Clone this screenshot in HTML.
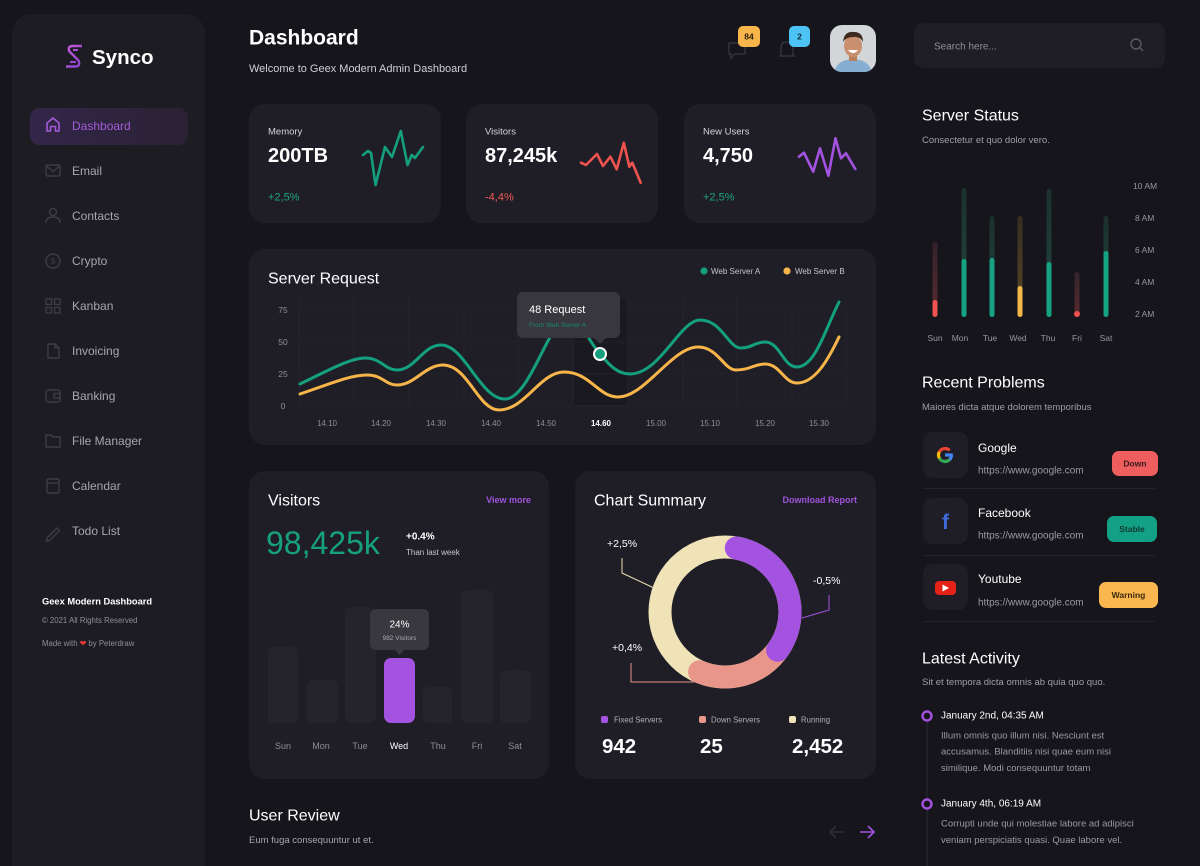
<!DOCTYPE html>
<html><head><meta charset="utf-8">
<style>
html,body{margin:0;padding:0;background:#16151b;}
svg{display:block;}
text{font-family:"Liberation Sans",sans-serif;}
.w{fill:#ffffff}
.g{fill:#8f8d97}
.lg{fill:#b3b1b9}
.nav{fill:#a7a5ad;font-size:12px}
.b{font-weight:bold}
</style></head>
<body>
<svg width="1200" height="866" viewBox="0 0 1200 866" xmlns="http://www.w3.org/2000/svg">
<defs>
<linearGradient id="lgP" x1="0" y1="0" x2="1" y2="1"><stop offset="0" stop-color="#c45ad8"/><stop offset="1" stop-color="#8a3fd0"/></linearGradient>
<linearGradient id="nav" x1="0" y1="0" x2="1" y2="0"><stop offset="0" stop-color="#33264a"/><stop offset="1" stop-color="#2a2233"/></linearGradient>
<linearGradient id="dT" x1="0" y1="0" x2="0" y2="1"><stop offset="0" stop-color="#1c302c"/><stop offset="1" stop-color="#1f4a3f"/></linearGradient>
<linearGradient id="dR" x1="0" y1="0" x2="0" y2="1"><stop offset="0" stop-color="#34222a"/><stop offset="1" stop-color="#5a2b30"/></linearGradient>
<linearGradient id="dY" x1="0" y1="0" x2="0" y2="1"><stop offset="0" stop-color="#352e22"/><stop offset="1" stop-color="#5a4826"/></linearGradient>
<clipPath id="av"><rect x="830" y="25" width="46" height="47" rx="12"/></clipPath>
</defs>

<rect x="0" y="0" width="1200" height="866" fill="#16151b"/>

<!-- Sidebar -->
<rect x="12" y="14" width="193" height="880" rx="20" fill="#1d1c23"/>
<path d="M82,46 L73,46 Q67,46 69.5,51.5 L78.5,60.5 Q81,66.5 75,66.5 L66,66.5" fill="none" stroke="url(#lgP)" stroke-width="2.4" stroke-linejoin="round"/>
<path d="M78,50 L73,50 M70,62 L76,62" stroke="url(#lgP)" stroke-width="2" fill="none"/>
<text x="92" y="64" class="w b" font-size="20.5">Synco</text>

<rect x="30" y="108" width="158" height="37" rx="10" fill="url(#nav)"/>
<path d="M47,131 V123 L53,118 L59,123 V131 H55.5 V126.5 H50.5 V131 Z" fill="none" stroke="#a35bd8" stroke-width="1.6" stroke-linejoin="round"/>
<text x="72" y="130" font-size="12" fill="#a35bd8">Dashboard</text>

<g fill="none" stroke="#3d3c44" stroke-width="1.4">
<rect x="46" y="165" width="14" height="11" rx="1.5"/><path d="M46.5,166 L53,171.5 L59.5,166"/>
<circle cx="53" cy="212" r="3.5"/><path d="M46,223 Q46,217 53,217 Q60,217 60,223"/>
<circle cx="53" cy="261" r="7"/>
<rect x="46" y="299" width="5.5" height="5.5"/><rect x="54.5" y="299" width="5.5" height="5.5"/><rect x="46" y="307.5" width="5.5" height="5.5"/><rect x="54.5" y="307.5" width="5.5" height="5.5"/>
<path d="M48,344 H55 L59,348 V358 H48 Z M55,344 V348 H59"/>
<rect x="46" y="390" width="14" height="12" rx="2"/><rect x="54" y="393.5" width="6" height="4.5"/>
<path d="M46,435 H51 L53,437 H60 V447 H46 Z"/>
<rect x="47" y="479" width="12" height="14" rx="1.5"/><path d="M47,483 H59"/>
<path d="M47,538 L57,528 L59.5,530.5 L49.5,540.5 L46.5,541.5 Z"/>
</g>
<text x="53" y="264" font-size="8" fill="#3d3c44" text-anchor="middle">$</text>

<text x="72" y="175" class="nav">Email</text>
<text x="72" y="220" class="nav">Contacts</text>
<text x="72" y="265" class="nav">Crypto</text>
<text x="72" y="310" class="nav">Kanban</text>
<text x="72" y="355" class="nav">Invoicing</text>
<text x="72" y="400" class="nav">Banking</text>
<text x="72" y="445" class="nav">File Manager</text>
<text x="72" y="490" class="nav">Calendar</text>
<text x="72" y="535" class="nav">Todo List</text>

<text x="42" y="604.5" class="w b" font-size="9.3">Geex Modern Dashboard</text>
<text x="42" y="623" font-size="7.8" fill="#8f8d97">© 2021 All Rights Reserved</text>
<text x="42" y="646" font-size="7.8" fill="#8f8d97">Made with <tspan fill="#e53935">❤</tspan> by Peterdraw</text>

<!-- Header -->
<text x="249" y="44.5" class="w b" font-size="21">Dashboard</text>
<text x="249" y="71.8" font-size="11" fill="#d0cfd5">Welcome to Geex Modern Admin Dashboard</text>

<path d="M729,43 h16 v11 h-10 l-4,4 v-4 h-2 z" fill="none" stroke="#34333a" stroke-width="1.4"/>
<path d="M781,56 V48 Q781,42 787,42 Q793,42 793,48 V56 Z M779,56 H795" fill="none" stroke="#34333a" stroke-width="1.4"/>
<rect x="738" y="26" width="22" height="21" rx="5" fill="#f8b54a"/>
<text x="749" y="39.5" font-size="8.5" class="b" fill="#2a2010" text-anchor="middle">84</text>
<rect x="789" y="26" width="21" height="21" rx="5" fill="#4cc2f5"/>
<text x="799.5" y="39.5" font-size="8.5" class="b" fill="#0f2a38" text-anchor="middle">2</text>

<g clip-path="url(#av)">
<rect x="830" y="25" width="46" height="47" fill="#d3d6d9"/>
<path d="M834,73 Q836,60 853,59 Q870,60 872,73 Z" fill="#86aed0"/>
<rect x="849" y="53" width="8" height="8" fill="#b97f5c"/>
<ellipse cx="853" cy="46" rx="9" ry="11" fill="#c99070"/>
<path d="M843,42 Q844,31 854,32 Q863,32 863,42 Q860,36 853,37 Q846,37 843,42 Z" fill="#3d2a1f"/>
<path d="M848,50 Q853,56 858,50 Z" fill="#fff"/>
</g>

<!-- Search -->
<rect x="914" y="23" width="251" height="45" rx="10" fill="#1f1e26"/>
<text x="934" y="49.3" font-size="10" fill="#8f8d97">Search here...</text>
<circle cx="1136" cy="44" r="5" fill="none" stroke="#5c5b64" stroke-width="1.4"/>
<path d="M1139.6,47.6 L1143,51" stroke="#5c5b64" stroke-width="1.4"/>

<!-- Top cards -->
<rect x="249" y="104" width="192" height="119" rx="16" fill="#1f1e26"/>
<rect x="466" y="104" width="192" height="119" rx="16" fill="#1f1e26"/>
<rect x="684" y="104" width="192" height="119" rx="16" fill="#1f1e26"/>
<text x="268" y="134.3" font-size="9.5" fill="#d4d3d9">Memory</text>
<text x="485" y="134.3" font-size="9.5" fill="#d4d3d9">Visitors</text>
<text x="703" y="134.3" font-size="9.5" fill="#d4d3d9">New Users</text>
<text x="268" y="162" class="w b" font-size="20">200TB</text>
<text x="485" y="162" class="w b" font-size="20">87,245k</text>
<text x="703" y="162" class="w b" font-size="20">4,750</text>
<text x="268" y="200.5" font-size="11" fill="#1da57f">+2,5%</text>
<text x="485" y="200.5" font-size="11" fill="#ef5b55">-4,4%</text>
<text x="703" y="200.5" font-size="11" fill="#1da57f">+2,5%</text>
<g fill="none" stroke-width="2.6" stroke-linejoin="round" stroke-linecap="round">
<polyline stroke="#14a07e" points="363,155 368,151 371,153 375.5,185 385,147 392,157 400.8,131 407.5,165 411.7,155 415,158 423,147"/>
<polyline stroke="#ef5350" points="581,162.7 586,165 597,154 603,166 610.4,156.7 616.7,169.3 623.8,142.7 629.3,166.7 632.3,162.7 640.7,182.7"/>
<polyline stroke="#a452e0" points="799,156.7 804,152.7 813.2,171.7 820,148.3 828.4,175.7 835.5,138.3 841,158.3 846,153.3 855.3,169"/>
</g>

<!-- Server Request -->
<rect x="249" y="249" width="627" height="196" rx="16" fill="#1f1e26"/>
<text x="268" y="283.5" class="w" font-size="16">Server Request</text>
<circle cx="704" cy="271" r="3.6" fill="#14a07e"/>
<text x="711" y="273.8" font-size="8" fill="#c5c4ca">Web Server A</text>
<circle cx="787" cy="271" r="3.6" fill="#f8b54a"/>
<text x="795" y="273.8" font-size="8" fill="#c5c4ca">Web Server B</text>
<rect x="573" y="298" width="55" height="107" fill="#1a1920"/>
<g stroke="#25242b" stroke-width="1">
<path d="M299,298 V405 M354,298 V405 M409,298 V405 M464,298 V405 M518,298 V405 M573,298 V405 M628,298 V405 M683,298 V405 M737,298 V405 M792,298 V405 M846,298 V405"/>
<path d="M299,310 H846 M299,342 H846 M299,374 H846 M299,406 H846" stroke="#222128"/>
</g>
<g font-size="8.5" fill="#8f8d97" text-anchor="middle">
<text x="283" y="313">75</text><text x="283" y="345">50</text><text x="283" y="377">25</text><text x="283" y="409">0</text>
</g>
<g font-size="8" fill="#8f8d97" text-anchor="middle">
<text x="327" y="426">14.10</text><text x="381" y="426">14.20</text><text x="436" y="426">14.30</text><text x="491" y="426">14.40</text><text x="546" y="426">14.50</text>
<text x="601" y="426" class="w b">14.60</text>
<text x="656" y="426">15.00</text><text x="710" y="426">15.10</text><text x="765" y="426">15.20</text><text x="819" y="426">15.30</text>
</g>
<path fill="none" stroke="#f8b54a" stroke-width="3" stroke-linecap="round" d="M300,394 C330,384 350,375 367,375 C383,375 385,385 397,385 C415,385 425,365 443,365 C468,365 478,410 499,410 C525,410 540,372 564,372 C590,372 598,397 618,397 C645,397 672,347 698,347 C718,347 724,370 736,370 C750,370 754,364 765,364 C780,364 784,383 797,383 C815,383 828,360 839,337"/>
<path fill="none" stroke="#14a07e" stroke-width="3" stroke-linecap="round" d="M300,384 C325,372 350,358 365,358 C381,358 385,370 397,370 C415,370 423,345 441,345 C465,345 480,399 505,399 C530,399 550,318 567,318 C580,318 590,343 600,354 C610,366 618,374 630,374 C660,374 680,320 700,320 C722,320 728,348 741,348 C752,348 755,342 765,342 C780,342 783,367 797,367 C815,367 825,330 839,302"/>
<rect x="517" y="292" width="103" height="46" rx="6" fill="#38373e"/>
<path d="M594,338 L606,338 L600,344 Z" fill="#38373e"/>
<text x="529" y="313" class="w" font-size="11">48 Request</text>
<text x="529" y="327" font-size="6.5" fill="#1a8a6c">From Web Server A</text>
<circle cx="600" cy="354" r="6" fill="#14a07e" stroke="#fff" stroke-width="2"/>

<!-- Visitors -->
<rect x="249" y="471" width="300" height="308" rx="16" fill="#1f1e26"/>
<text x="268" y="505.5" class="w" font-size="16">Visitors</text>
<text x="531" y="503" font-size="9" class="b" fill="#a053dc" text-anchor="end">View more</text>
<text x="266" y="554" font-size="32" fill="#17a07e">98,425k</text>
<text x="406" y="539.5" class="w b" font-size="10">+0.4%</text>
<text x="406" y="555" font-size="8" fill="#c5c4ca">Than last week</text>
<g fill="#25242b">
<rect x="268" y="647" width="30" height="76" rx="6"/>
<rect x="307" y="680" width="31" height="43" rx="6"/>
<rect x="345" y="607" width="31" height="116" rx="6"/>
<rect x="423" y="687" width="29" height="36" rx="6"/>
<rect x="461" y="590" width="32" height="133" rx="6"/>
<rect x="500" y="670" width="31" height="53" rx="6"/>
</g>
<rect x="384" y="658" width="31" height="65" rx="7" fill="#a452e0"/>
<rect x="370" y="609" width="59" height="41" rx="6" fill="#39383f"/>
<path d="M395,650 L404,650 L399.5,655 Z" fill="#39383f"/>
<text x="399.5" y="627.5" class="w" font-size="10" text-anchor="middle">24%</text>
<text x="399.5" y="640" font-size="6.5" fill="#a9a8ae" text-anchor="middle">982 Visitors</text>
<g font-size="9" fill="#8f8d97" text-anchor="middle">
<text x="283" y="749">Sun</text><text x="321" y="749">Mon</text><text x="360" y="749">Tue</text>
<text x="399" y="749" class="w">Wed</text>
<text x="438" y="749">Thu</text><text x="477" y="749">Fri</text><text x="515" y="749">Sat</text>
</g>

<!-- Chart Summary -->
<rect x="575" y="471" width="301" height="308" rx="16" fill="#1f1e26"/>
<text x="594" y="505.5" class="w" font-size="16">Chart Summary</text>
<text x="857" y="503" font-size="9" class="b" fill="#a053dc" text-anchor="end">Download Report</text>
<circle cx="725" cy="612" r="65" fill="none" stroke="#efe3b7" stroke-width="23"/>
<path d="M781.3,644.5 A65,65 0 0 1 699.6,671.8" fill="none" stroke="#e8958a" stroke-width="23" stroke-linecap="round"/>
<path d="M736.3,548 A65,65 0 0 1 777.6,650.2" fill="none" stroke="#a452e0" stroke-width="23" stroke-linecap="round"/>
<polyline points="622,558 622,573 654,588" fill="none" stroke="#efe3b7" stroke-width="1"/>
<polyline points="829,595 829,610 802,618" fill="none" stroke="#a452e0" stroke-width="1"/>
<polyline points="631,663 631,682 694,682" fill="none" stroke="#e8958a" stroke-width="1"/>
<text x="607" y="547" class="w" font-size="10.5">+2,5%</text>
<text x="813" y="584" class="w" font-size="10.5">-0,5%</text>
<text x="612" y="651" class="w" font-size="10.5">+0,4%</text>
<rect x="601" y="716" width="7" height="7" rx="2" fill="#a452e0"/>
<text x="614" y="722.5" font-size="7.8" fill="#b0afb5">Fixed Servers</text>
<rect x="699" y="716" width="7" height="7" rx="2" fill="#e8958a"/>
<text x="711" y="722.5" font-size="7.8" fill="#b0afb5">Down Servers</text>
<rect x="789" y="716" width="7" height="7" rx="2" fill="#efe3b7"/>
<text x="801" y="722.5" font-size="7.8" fill="#b0afb5">Running</text>
<text x="602" y="753" class="w b" font-size="20.5">942</text>
<text x="700" y="753" class="w b" font-size="20.5">25</text>
<text x="792" y="753" class="w b" font-size="20.5">2,452</text>

<!-- User Review -->
<text x="249" y="820.5" class="w" font-size="16">User Review</text>
<text x="249" y="843" font-size="9.5" fill="#a5a4ab">Eum fuga consequuntur ut et.</text>
<path d="M830,832 H844 M836,826 L830,832 L836,838" fill="none" stroke="#2f2e36" stroke-width="1.6"/>
<path d="M860,832 H874 M868,826 L874,832 L868,838" fill="none" stroke="#a452e0" stroke-width="1.6"/>

<!-- Server Status -->
<text x="922" y="120.5" class="w" font-size="16">Server Status</text>
<text x="922" y="143" font-size="9.5" fill="#a09ea8">Consectetur et quo dolor vero.</text>
<g>
<rect x="932.5" y="242" width="5" height="75" rx="2.5" fill="url(#dR)"/><rect x="932.5" y="300" width="5" height="17" rx="2.5" fill="#f0524f"/>
<rect x="961.5" y="188" width="5" height="129" rx="2.5" fill="url(#dT)"/><rect x="961.5" y="259" width="5" height="58" rx="2.5" fill="#15a383"/>
<rect x="989.5" y="216" width="5" height="101" rx="2.5" fill="url(#dT)"/><rect x="989.5" y="258" width="5" height="59" rx="2.5" fill="#15a383"/>
<rect x="1017.5" y="216" width="5" height="101" rx="2.5" fill="url(#dY)"/><rect x="1017.5" y="286" width="5" height="31" rx="2.5" fill="#f5b848"/>
<rect x="1046.5" y="189" width="5" height="128" rx="2.5" fill="url(#dT)"/><rect x="1046.5" y="262" width="5" height="55" rx="2.5" fill="#15a383"/>
<rect x="1074.5" y="272" width="5" height="45" rx="2.5" fill="url(#dR)"/><circle cx="1077" cy="314" r="3" fill="#f0524f"/>
<rect x="1103.5" y="216" width="5" height="101" rx="2.5" fill="url(#dT)"/><rect x="1103.5" y="251" width="5" height="66" rx="2.5" fill="#15a383"/>
</g>
<g font-size="8.5" fill="#9897a0">
<text x="1133" y="189">10 AM</text><text x="1135" y="221">8 AM</text><text x="1135" y="253">6 AM</text><text x="1135" y="285">4 AM</text><text x="1135" y="317">2 AM</text>
</g>
<g font-size="8.5" fill="#9897a0" text-anchor="middle">
<text x="935" y="341">Sun</text><text x="960" y="341">Mon</text><text x="990" y="341">Tue</text><text x="1018" y="341">Wed</text><text x="1048" y="341">Thu</text><text x="1077" y="341">Fri</text><text x="1106" y="341">Sat</text>
</g>

<!-- Recent Problems -->
<text x="922" y="387.5" class="w" font-size="16">Recent Problems</text>
<text x="922" y="410" font-size="9.5" fill="#a09ea8">Maiores dicta atque dolorem temporibus</text>

<rect x="923" y="432" width="45" height="46" rx="10" fill="#1f1e26"/>
<g fill="none" stroke-width="3.2">
<path d="M951.5,455 A6.5,6.5 0 0 1 949.6,459.6" stroke="#4285f4"/>
<path d="M945,455 H952.8" stroke="#4285f4"/>
<path d="M949.6,459.6 A6.5,6.5 0 0 1 939.4,458.25" stroke="#34a853"/>
<path d="M939.4,458.25 A6.5,6.5 0 0 1 939.4,451.75" stroke="#fbbc05"/>
<path d="M939.4,451.75 A6.5,6.5 0 0 1 949.6,450.4" stroke="#ea4335"/>
</g>
<text x="978" y="452" class="w" font-size="12">Google</text>
<text x="978" y="473.5" font-size="10" fill="#9b99a3">https://www.google.com</text>
<rect x="1112" y="451" width="46" height="25" rx="7" fill="#ef5e5e"/>
<text x="1135" y="466.5" font-size="8.5" class="b" fill="#3a1a1a" text-anchor="middle">Down</text>
<path d="M923,488.5 H1155" stroke="#232229"/>

<rect x="923" y="498" width="45" height="46" rx="10" fill="#1f1e26"/>
<text x="945.5" y="529" font-size="21" class="b" fill="#3d6ad6" text-anchor="middle">f</text>
<text x="978" y="517" class="w" font-size="12">Facebook</text>
<text x="978" y="538.5" font-size="10" fill="#9b99a3">https://www.google.com</text>
<rect x="1107" y="516" width="50" height="26" rx="7" fill="#13a185"/>
<text x="1132" y="532" font-size="8.5" class="b" fill="#0e3a30" text-anchor="middle">Stable</text>
<path d="M923,555.5 H1155" stroke="#232229"/>

<rect x="923" y="564" width="45" height="46" rx="10" fill="#1f1e26"/>
<rect x="935" y="581" width="21" height="14" rx="4" fill="#e62117"/>
<path d="M942.5,584.5 L942.5,591.5 L949,588 Z" fill="#fff"/>
<text x="978" y="583" class="w" font-size="12">Youtube</text>
<text x="978" y="605.5" font-size="10" fill="#9b99a3">https://www.google.com</text>
<rect x="1099" y="582" width="59" height="26" rx="7" fill="#fbb74f"/>
<text x="1128.5" y="598" font-size="8.5" class="b" fill="#3a2a10" text-anchor="middle">Warning</text>
<path d="M923,621.5 H1155" stroke="#232229"/>

<!-- Latest Activity -->
<text x="922" y="663.5" class="w" font-size="16">Latest Activity</text>
<text x="922" y="685" font-size="9.5" fill="#a09ea8">Sit et tempora dicta omnis ab quia quo quo.</text>
<path d="M927,722 V866" stroke="#2a2930" stroke-width="1.2"/>
<circle cx="927" cy="716" r="4.5" fill="#16151b" stroke="#a452e0" stroke-width="2.4"/>
<circle cx="927" cy="804" r="4.5" fill="#16151b" stroke="#a452e0" stroke-width="2.4"/>
<text x="941" y="718.5" class="w" font-size="10">January 2nd, 04:35 AM</text>
<g font-size="9.5" fill="#9b99a3">
<text x="941" y="738.5">Illum omnis quo illum nisi. Nesciunt est</text>
<text x="941" y="754.5">accusamus. Blanditiis nisi quae eum nisi</text>
<text x="941" y="771">similique. Modi consequuntur totam</text>
</g>
<text x="941" y="806.5" class="w" font-size="10">January 4th, 06:19 AM</text>
<g font-size="9.5" fill="#9b99a3">
<text x="941" y="826.5">Corrupti unde qui molestiae labore ad adipisci</text>
<text x="941" y="843">veniam perspiciatis quasi. Quae labore vel.</text>
</g>
</svg>
</body></html>
